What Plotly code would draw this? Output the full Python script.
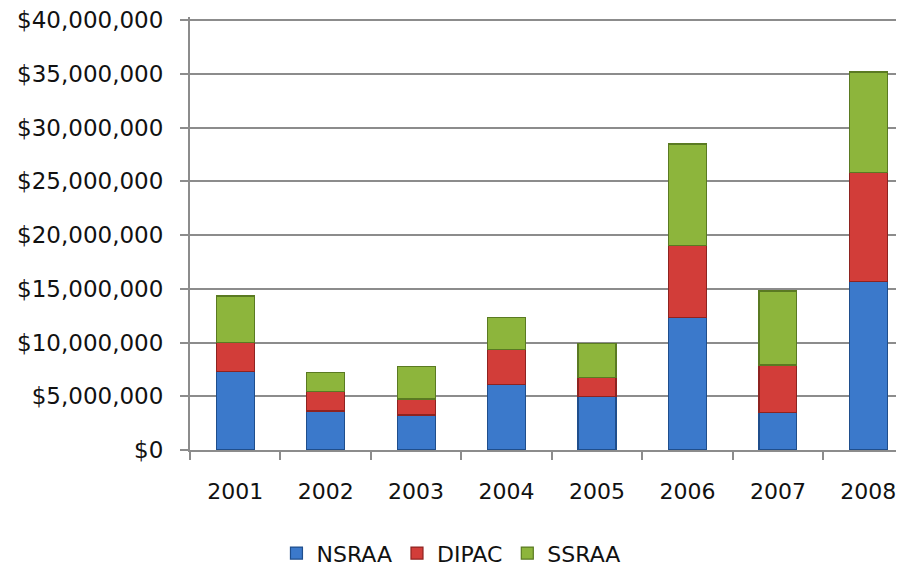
import plotly.graph_objects as go

years = ["2001", "2002", "2003", "2004", "2005", "2006", "2007", "2008"]
nsraa = [7.28e6, 3.63e6, 3.26e6, 6.11e6, 4.96e6, 12.34e6, 3.47e6, 15.66e6]
dipac = [2.74e6, 1.80e6, 1.48e6, 3.26e6, 1.80e6, 6.66e6, 4.44e6, 10.17e6]
ssraa = [4.31e6, 1.76e6, 3.01e6, 2.94e6, 3.13e6, 9.47e6, 6.88e6, 9.33e6]

y_ticks = [0, 5e6, 10e6, 15e6, 20e6, 25e6, 30e6, 35e6, 40e6]
y_ticktext = ["$0", "$5,000,000", "$10,000,000", "$15,000,000", "$20,000,000",
              "$25,000,000", "$30,000,000", "$35,000,000", "$40,000,000"]

series = [
    ("NSRAA", nsraa, "#3B79CB", "#1F4E8C"),
    ("DIPAC", dipac, "#D23D39", "#8E2320"),
    ("SSRAA", ssraa, "#8DB53C", "#5A7A22"),
]

fig = go.Figure()
for name, vals, col, edge in series:
    fig.add_trace(go.Bar(
        x=years, y=vals, name=name,
        marker=dict(color=col, line=dict(color=edge, width=1.2)),
        width=0.42,
    ))

font_family = "DejaVu Sans, sans-serif"
fig.update_layout(
    barmode="stack",
    width=904, height=574,
    margin=dict(l=182, r=12, t=9, b=132),
    paper_bgcolor="white", plot_bgcolor="white",
    font=dict(family=font_family, size=22, color="#111111"),
    legend=dict(orientation="h", xref="container", yref="container",
                x=0.49, xanchor="center", y=0.05, yanchor="middle",
                font=dict(size=22), itemwidth=30, traceorder="normal"),
    xaxis=dict(type="category", range=[-0.5, 7.35], showgrid=False,
               showline=True, linecolor="#8C8C8C", linewidth=2,
               ticks="outside", tickson="boundaries", ticklen=8,
               tickcolor="#8C8C8C", tickwidth=2, ticklabelstandoff=21,
               automargin=False),
    yaxis=dict(range=[0, 40.28e6], tickvals=y_ticks, ticktext=y_ticktext,
               showgrid=True, gridcolor="#8C8C8C", gridwidth=2,
               showline=True, linecolor="#8C8C8C", linewidth=2,
               ticks="outside", ticklen=8, tickcolor="#8C8C8C", tickwidth=2,
               zeroline=False, ticklabelstandoff=12, automargin=False,
               ticklabeloverflow="allow", tickfont=dict(size=23)),
    showlegend=True,
)

fig.write_html("out.html")
